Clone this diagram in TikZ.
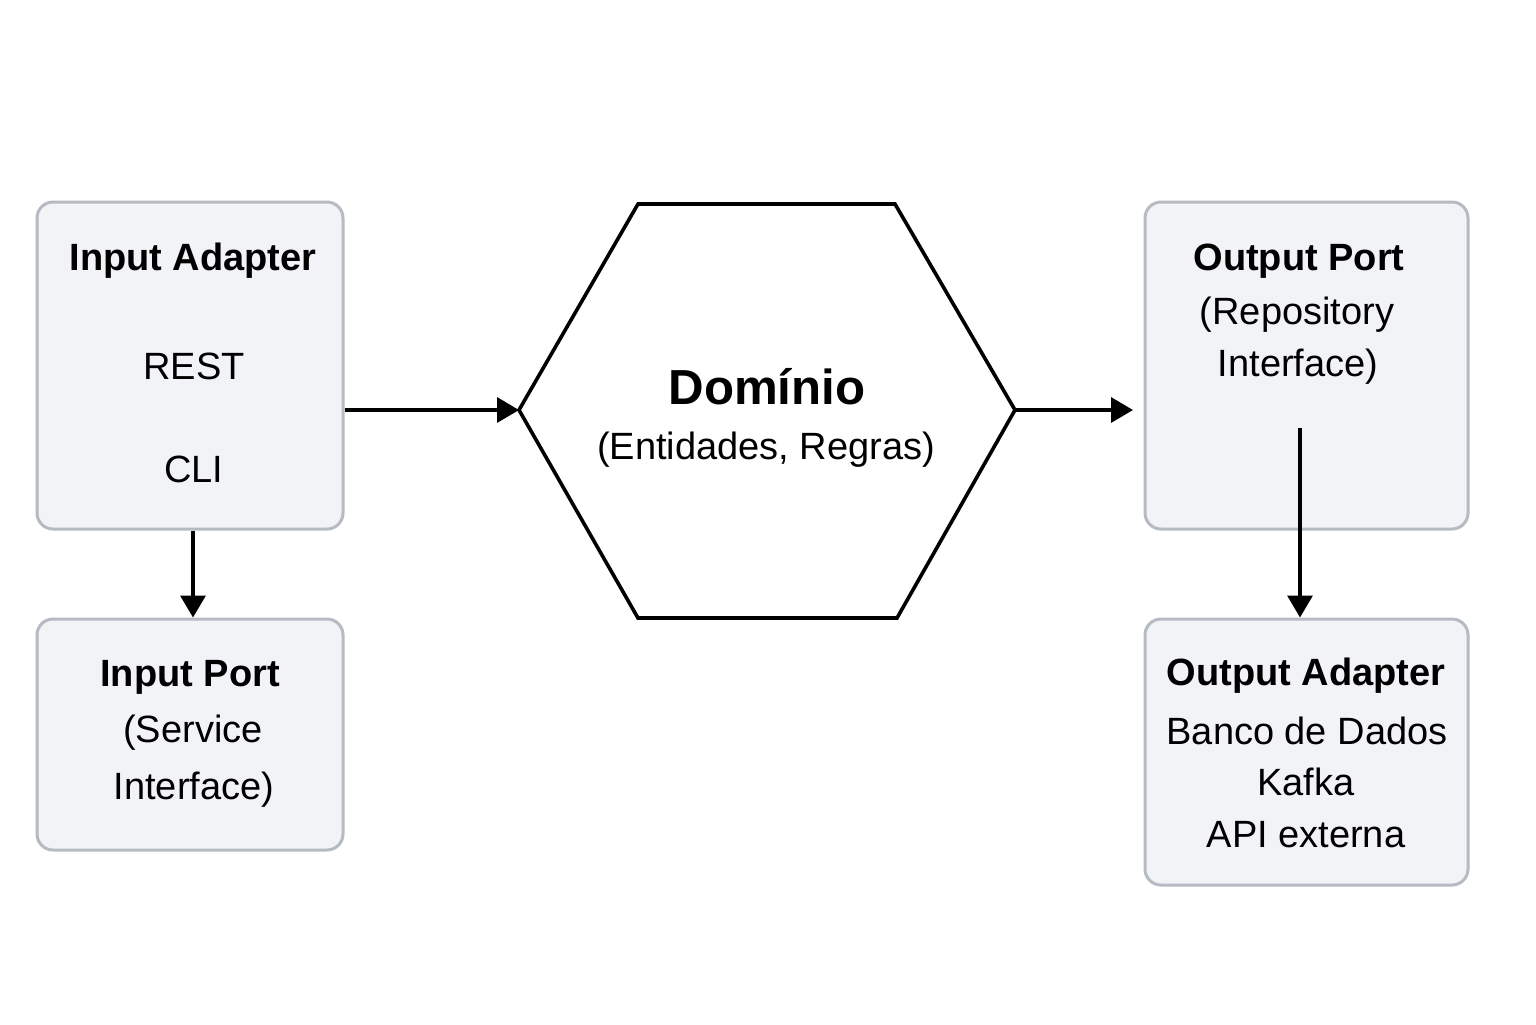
\documentclass[tikz,border=0pt]{standalone}
\usepackage{fontspec}
\setmainfont{Liberation Sans}
\usetikzlibrary{arrows.meta}
\definecolor{boxfill}{HTML}{F2F3F6}
\definecolor{boxline}{HTML}{B6BAC2}
\tikzset{
  card/.style={draw=boxline, fill=boxfill, line width=1.5pt, rounded corners=8pt, inner sep=0pt},
  txt/.style={inner sep=0pt, text height=13.6pt, text depth=0pt, font=\fontsize{19pt}{23pt}\selectfont},
  btxt/.style={txt, font=\fontsize{19pt}{23pt}\selectfont\bfseries},
  conn/.style={draw=black, line width=1.7pt, -{Triangle[length=11pt,width=12.5pt]}},
}
\begin{document}
\begin{tikzpicture}[x=0.5pt,y=-0.5pt]
\useasboundingbox (0,0) rectangle (1536,1024);
\fill[white] (0,0) rectangle (1536,1024);
% boxes
\node[card, minimum width=153pt, minimum height=163.5pt] (ia) at (190,365.5) {};
\node[card, minimum width=153pt, minimum height=115.5pt] (ip) at (190,734.5) {};
\node[card, minimum width=161.5pt, minimum height=163.5pt] (op) at (1306.5,365.5) {};
\node[card, minimum width=161.5pt, minimum height=133pt] (oa) at (1306.5,752) {};
% hexagon
\coordinate (h1) at (638,204);
\coordinate (h2) at (895,204);
\coordinate (hr) at (1015,410);
\coordinate (h4) at (897,618);
\coordinate (h5) at (638,618);
\coordinate (hl) at (519,410);
\draw[line width=1.8pt, line join=miter, fill=white] (h1) -- (h2) -- (hr) -- (h4) -- (h5) -- (hl) -- cycle;
% texts
\node[btxt] (iat) at (193,257) {Input Adapter};
\node[txt] (iar) at (194,366) {REST};
\node[txt] (iac) at (194,469) {CLI};
\node[btxt] (ipt) at (190,673) {Input Port};
\node[txt] (ips) at (193,729) {(Service};
\node[txt] (ipi) at (194,786) {Interface)};
\node[btxt] (opt) at (1299,257) {Output Port};
\node[txt] (opr) at (1297,311) {(Repository};
\node[txt] (opi) at (1298,363) {Interface)};
\node[btxt] (oat) at (1306,672) {Output Adapter};
\node[txt] (oab) at (1307,731) {Banco de Dados};
\node[txt] (oak) at (1306,782) {Kafka};
\node[txt] (oaa) at (1306,834) {API externa};
\node[inner sep=0pt, text height=17.6pt, text depth=0pt, font=\fontsize{24.6pt}{29pt}\selectfont\bfseries] (dom) at (767,387) {Domínio};
\node[txt] (doms) at (766,446) {(Entidades, Regras)};
% connectors
\coordinate (a1s) at (345,410);
\coordinate (a2e) at (1133,410);
\coordinate (a4s) at (1300,428);
\coordinate (a3x) at (193,0);
\draw[conn] (ia.south -| a3x) -- (ip.north -| a3x);
\draw[conn] (a1s) -- (hl);
\draw[conn] (hr) -- (a2e);
\draw[conn] (a4s) -- (a4s |- oa.north);
\end{tikzpicture}
\end{document}
